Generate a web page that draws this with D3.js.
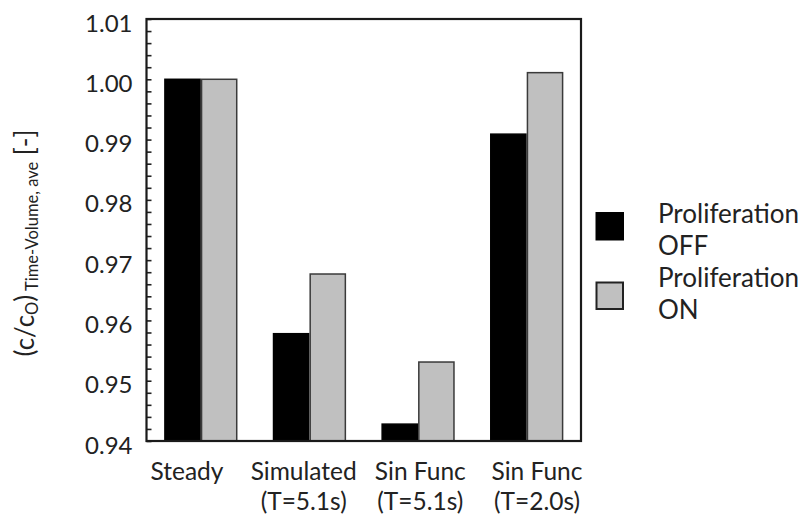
<!DOCTYPE html>
<html>
<head>
<meta charset="utf-8">
<script src="https://cdn.jsdelivr.net/npm/d3@7"></script>
<style>
  html, body { margin: 0; padding: 0; background: #fff; }
  svg { display: block; }
  text { font-family: Lato, "Open Sans", sans-serif; fill: #222; }
</style>
</head>
<body>
<svg id="chart" width="806" height="523"></svg>
<script>
// ---- data ----
const categories = ["Steady", "Simulated", "Sin Func", "Sin Func 2"];
const categoryLines = [["Steady"], ["Simulated", "(T=5.1s)"], ["Sin Func", "(T=5.1s)"], ["Sin Func", "(T=2.0s)"]];
const seriesNames = ["Proliferation OFF", "Proliferation ON"];
const legendLines = [["Proliferation", "OFF"], ["Proliferation", "ON"]];
const valuesOff = [1.0000, 0.9578, 0.9428, 0.9909];
const valuesOn  = [1.0000, 0.9677, 0.9531, 1.0011];
const yTickLabels = [0.94, 0.95, 0.96, 0.97, 0.98, 0.99, 1.00, 1.01];
const yDomain = [0.94, 1.01];

// ---- layout ----
const W = 806, H = 523;
const plot = { left: 146.5, right: 581, top: 19, bottom: 441 };
const svg = d3.select("#chart");

const x = d3.scaleBand().domain(categories).range([plot.left, plot.right])
  .paddingInner(0.325).paddingOuter(0.1625);
const xs = d3.scaleBand().domain(seriesNames).range([0, x.bandwidth()]).padding(0);
const y = d3.scaleLinear().domain(yDomain).range([plot.bottom, plot.top]);
const labelX = d3.scalePoint().domain(categories).range([plot.left + 40.5, plot.right - 44]);

const fills = { "Proliferation OFF": "#000000", "Proliferation ON": "#c0c0c0" };
const strokes = { "Proliferation OFF": "#000000", "Proliferation ON": "#3a3a3a" };

const rows = categories.map((c, i) => ({ c, vals: [
  { s: seriesNames[0], v: valuesOff[i] },
  { s: seriesNames[1], v: valuesOn[i] }
]}));

// bars
const g = svg.append("g");
g.selectAll("g.cat").data(rows).join("g")
  .attr("transform", d => `translate(${x(d.c)},0)`)
  .selectAll("rect").data(d => d.vals).join("rect")
  .attr("x", d => xs(d.s) + 0.75)
  .attr("width", xs.bandwidth() - 1.5)
  .attr("y", d => y(d.v))
  .attr("height", d => y(yDomain[0]) - y(d.v))
  .attr("fill", d => fills[d.s])
  .attr("stroke", d => strokes[d.s])
  .attr("stroke-width", 1.5);

// y axis minor/major ticks (inward)
const minorTicks = d3.range(0, 36).map(i => +(yDomain[0] + i * 0.002).toFixed(3));
svg.append("g")
  .attr("transform", `translate(${plot.left},0)`)
  .call(d3.axisLeft(y).tickValues(minorTicks).tickSizeInner(-5).tickSizeOuter(0).tickFormat(""))
  .call(a => a.select(".domain").remove())
  .call(a => a.selectAll("line").attr("stroke", "#222").attr("stroke-width", 1.6));

// y tick labels
svg.append("g")
  .attr("transform", `translate(${plot.left},0)`)
  .call(d3.axisLeft(y).tickValues(yTickLabels).tickSize(0).tickPadding(14).tickFormat(d3.format(".2f")))
  .call(a => a.select(".domain").remove())
  .call(a => a.selectAll("text")
    .attr("font-family", "Lato, sans-serif")
    .attr("font-size", 24)
    .attr("fill", "#222")
    .attr("dy", "0.5em"));

// frame
svg.append("rect")
  .attr("x", plot.left).attr("y", plot.top)
  .attr("width", plot.right - plot.left).attr("height", plot.bottom - plot.top)
  .attr("fill", "none").attr("stroke", "#1a1a1a").attr("stroke-width", 2.2);

// x labels (one text element per line)
const xl = svg.append("g");
categories.forEach((c, i) => {
  categoryLines[i].forEach((ln, j) => {
    xl.append("text")
      .attr("x", labelX(c)).attr("y", 480 + j * 30)
      .attr("text-anchor", "middle").attr("font-size", 24.5)
      .text(ln);
  });
});

// y axis title
const yt = svg.append("text")
  .attr("transform", `translate(34,243) rotate(-90)`)
  .attr("text-anchor", "middle")
  .attr("font-size", 26);
yt.append("tspan").text("(c/c");
yt.append("tspan").attr("font-size", 16.5).attr("dy", 4).text("O");
yt.append("tspan").attr("dy", -4).text(")");
yt.append("tspan").attr("font-size", 16.5).attr("dy", 4).text(" Time-Volume, ave");
yt.append("tspan").attr("dy", -4).text(" [-]");

// legend (one text element per line)
const leg = svg.append("g");
seriesNames.forEach((s, i) => {
  const top = 213 + i * 69.5;
  leg.append("rect")
    .attr("x", 596.5).attr("y", top)
    .attr("width", 26.5).attr("height", 26.5)
    .attr("fill", fills[s]).attr("stroke", i === 0 ? "#000" : "#222").attr("stroke-width", 2);
  legendLines[i].forEach((ln, j) => {
    leg.append("text").attr("font-size", 26)
      .attr("x", 658).attr("y", 223 + i * 64 + j * 32).text(ln);
  });
});
</script>
</body>
</html>
